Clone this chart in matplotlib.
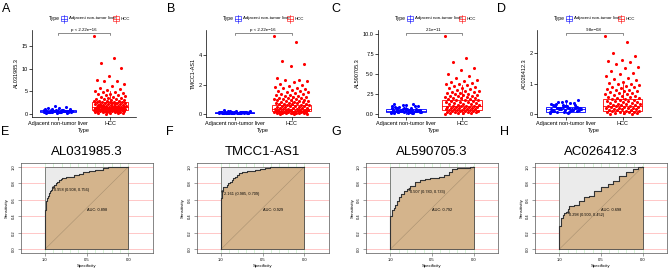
import matplotlib
matplotlib.use("Agg")
import matplotlib.pyplot as plt
from matplotlib.patches import Rectangle
from matplotlib.lines import Line2D

plt.rcParams['font.family'] = ['Liberation Sans', 'DejaVu Sans']

W, H = 669, 268

# ---------------- data: box plots (top row) ----------------
groups = ["Adjacent non-tumor liver", "HCC"]
genes = ["AL031985.3", "TMCC1-AS1", "AL590705.3", "AC026412.3"]
pvals = ["p < 2.22e\u221216", "p < 2.22e\u221216", "2.1e\u221211", "9.8e\u221208"]

adj_A = [0.35, 0.42, 0.48, 0.55, 0.61, 0.66, 0.72, 0.58, 0.51, 0.44, 0.39, 0.63, 0.70, 0.78, 0.85,
         0.92, 0.60, 0.53, 0.47, 0.68, 0.75, 0.57, 0.62, 0.49, 0.41, 0.33, 0.28, 0.95, 1.05, 1.12,
         1.25, 1.38, 1.55, 1.72, 0.88, 0.81, 0.64, 0.56, 0.45, 0.52, 0.59, 0.67, 0.74, 0.43, 0.37,
         0.31, 0.99, 1.18, 0.71, 0.54]
hcc_A = [17.2, 12.3, 11.3, 10.1, 8.3, 7.4, 7.3, 7.2, 6.6, 6.1, 5.8, 5.5, 5.3, 5.1, 4.9, 4.8, 4.6,
         4.5, 4.3, 4.2, 4.1, 3.9, 3.8, 3.7, 3.6, 3.5, 3.4, 3.3, 3.2, 3.1, 3.0, 2.95, 2.9, 2.85, 2.8,
         2.75, 2.7, 2.65, 2.6, 2.55, 2.5, 2.45, 2.4, 2.35, 2.3, 2.25, 2.2, 2.15, 2.1, 2.05, 2.0,
         1.95, 1.9, 1.85, 1.8, 1.75, 1.7, 1.68, 1.65, 1.62, 1.6, 1.57, 1.55, 1.52, 1.5, 1.47, 1.45,
         1.42, 1.4, 1.37, 1.35, 1.32, 1.3, 1.27, 1.25, 1.22, 1.2, 1.17, 1.15, 1.12, 1.1, 1.07, 1.05,
         1.02, 1.0, 0.97, 0.95, 0.92, 0.9, 0.87, 0.85, 0.82, 0.8, 0.77, 0.75, 0.72, 0.7, 0.67, 0.65,
         0.6, 0.55, 0.5, 0.45, 0.4, 0.35, 0.3, 0.25, 0.2, 0.15, 0.1]

adj_B = [0.05, 0.08, 0.1, 0.12, 0.07, 0.09, 0.11, 0.14, 0.06, 0.13, 0.1, 0.08, 0.15, 0.12, 0.09,
         0.11, 0.07, 0.16, 0.1, 0.13, 0.18, 0.22, 0.06, 0.09, 0.12, 0.08, 0.11, 0.14, 0.1, 0.07,
         0.2, 0.25, 0.13, 0.09, 0.12, 0.1, 0.08, 0.11, 0.15, 0.17, 0.04, 0.1, 0.12, 0.09, 0.14,
         0.11, 0.08, 0.13, 0.1, 0.19]
hcc_B = [5.3, 4.9, 3.65, 3.4, 3.3, 2.45, 2.35, 2.3, 2.25, 2.2, 2.05, 2.0, 1.92, 1.85, 1.8, 1.75,
         1.7, 1.65, 1.6, 1.55, 1.5, 1.47, 1.43, 1.4, 1.36, 1.32, 1.28, 1.25, 1.22, 1.18, 1.15, 1.12,
         1.1, 1.07, 1.05, 1.02, 1.0, 0.98, 0.95, 0.93, 0.9, 0.88, 0.86, 0.84, 0.82, 0.8, 0.78, 0.76,
         0.74, 0.72, 0.7, 0.68, 0.66, 0.64, 0.62, 0.6, 0.58, 0.56, 0.54, 0.52, 0.5, 0.48, 0.46,
         0.44, 0.42, 0.4, 0.38, 0.36, 0.35, 0.34, 0.32, 0.31, 0.3, 0.28, 0.27, 0.26, 0.25, 0.24,
         0.22, 0.21, 0.2, 0.19, 0.18, 0.17, 0.16, 0.15, 0.14, 0.13, 0.12, 0.11, 0.1, 0.09, 0.08,
         0.07, 0.06, 0.05, 0.04, 0.03, 0.02, 0.01]

adj_C = [0.1, 0.2, 0.3, 0.35, 0.4, 0.45, 0.5, 0.55, 0.25, 0.15, 0.38, 0.42, 0.6, 0.7, 0.8, 0.9,
         1.0, 1.1, 1.2, 1.3, 0.33, 0.28, 0.47, 0.52, 0.65, 0.75, 0.22, 0.18, 0.36, 0.44, 0.58,
         0.85, 0.95, 1.15, 0.3, 0.4, 0.27, 0.5, 0.62, 0.12, 0.08, 0.32, 0.46, 0.55, 0.72, 0.38,
         0.24, 1.05, 0.68, 0.42]
hcc_C = [9.8, 7.0, 6.5, 5.7, 5.5, 5.0, 4.8, 4.5, 4.3, 4.1, 4.0, 3.9, 3.8, 3.7, 3.6, 3.5, 3.4, 3.3,
         3.2, 3.1, 3.0, 2.9, 2.85, 2.8, 2.7, 2.65, 2.6, 2.5, 2.45, 2.4, 2.35, 2.3, 2.25, 2.2, 2.15,
         2.1, 2.05, 2.0, 1.95, 1.9, 1.85, 1.8, 1.75, 1.7, 1.65, 1.6, 1.55, 1.5, 1.45, 1.4, 1.35,
         1.3, 1.25, 1.2, 1.15, 1.1, 1.05, 1.0, 0.97, 0.94, 0.91, 0.88, 0.85, 0.82, 0.79, 0.76,
         0.73, 0.7, 0.67, 0.64, 0.61, 0.58, 0.55, 0.52, 0.49, 0.46, 0.43, 0.4, 0.37, 0.34, 0.31,
         0.28, 0.25, 0.22, 0.19, 0.16, 0.13, 0.1, 0.07, 0.04]

adj_D = [0.02, 0.05, 0.08, 0.1, 0.12, 0.14, 0.16, 0.18, 0.2, 0.22, 0.25, 0.28, 0.3, 0.33, 0.36,
         0.4, 0.45, 0.42, 0.11, 0.13, 0.15, 0.17, 0.19, 0.21, 0.24, 0.06, 0.09, 0.14, 0.16, 0.12,
         0.27, 0.31, 0.35, 0.38, 0.07, 0.1, 0.18, 0.23, 0.26, 0.29, 0.13, 0.15, 0.2, 0.04, 0.32,
         0.19, 0.22, 0.17]
hcc_D = [2.55, 2.35, 2.0, 1.9, 1.76, 1.74, 1.72, 1.65, 1.55, 1.5, 1.42, 1.35, 1.3, 1.25, 1.18,
         1.15, 1.1, 1.05, 1.02, 1.0, 0.97, 0.95, 0.92, 0.9, 0.88, 0.85, 0.83, 0.8, 0.78, 0.76,
         0.74, 0.72, 0.7, 0.68, 0.66, 0.64, 0.62, 0.6, 0.58, 0.56, 0.55, 0.53, 0.52, 0.5, 0.49,
         0.47, 0.46, 0.44, 0.43, 0.41, 0.4, 0.38, 0.37, 0.35, 0.34, 0.33, 0.32, 0.3, 0.29, 0.28,
         0.27, 0.26, 0.25, 0.24, 0.23, 0.22, 0.21, 0.2, 0.19, 0.18, 0.17, 0.16, 0.15, 0.14, 0.13,
         0.12, 0.11, 0.1, 0.09, 0.08, 0.07, 0.06, 0.05, 0.04, 0.03, 0.02, 0.01, 0.005]

# box stats: (q1, median, q3, whisker low, whisker high)
box_adj = [(0.45, 0.60, 0.78, 0.25, 1.25), (0.08, 0.10, 0.13, 0.04, 0.20),
           (0.20, 0.40, 0.60, 0.05, 1.00), (0.08, 0.15, 0.24, 0.02, 0.45)]
box_hcc = [(0.95, 1.65, 2.65, 0.10, 5.10), (0.18, 0.33, 0.62, 0.00, 1.25),
           (0.50, 1.00, 1.75, 0.02, 3.60), (0.11, 0.27, 0.48, 0.00, 0.98)]

yticks_top = [[0, 5, 10, 15], [0, 2, 4], [0, 2.5, 5, 7.5, 10], [0, 1, 2]]
ytick_lbls = [["0", "5", "10", "15"], ["0", "2", "4"],
              ["0.0", "2.5", "5.0", "7.5", "10.0"], ["0", "1", "2"]]

# ---------------- data: ROC curves (bottom row) ----------------
spec_E = [1.0, 1.0, 0.99, 0.985, 0.97, 0.965, 0.95, 0.945, 0.93, 0.92, 0.908, 0.89, 0.87, 0.85,
          0.83, 0.81, 0.79, 0.75, 0.72, 0.69, 0.65, 0.59, 0.55, 0.47, 0.40, 0.31, 0.28, 0.25, 0.23, 0.0]
sens_E = [0.0, 0.46, 0.48, 0.55, 0.58, 0.62, 0.64, 0.68, 0.70, 0.72, 0.756, 0.76, 0.78, 0.80,
          0.82, 0.84, 0.85, 0.86, 0.87, 0.875, 0.88, 0.90, 0.91, 0.93, 0.95, 0.96, 0.98, 0.99, 1.0, 1.0]
spec_F = [1.0, 1.0, 0.984, 0.972, 0.95, 0.932, 0.91, 0.892, 0.87, 0.852, 0.83, 0.812, 0.78, 0.752,
          0.72, 0.692, 0.64, 0.592, 0.53, 0.472, 0.412, 0.34, 0.272, 0.0]
sens_F = [0.0, 0.60, 0.62, 0.709, 0.75, 0.76, 0.78, 0.80, 0.82, 0.84, 0.86, 0.88, 0.90, 0.92,
          0.93, 0.94, 0.945, 0.95, 0.96, 0.97, 0.99, 0.995, 1.0, 1.0]
spec_G = [1.0, 1.0, 0.98, 0.96, 0.94, 0.92, 0.90, 0.872, 0.84, 0.80, 0.78, 0.76, 0.70, 0.64, 0.58,
          0.52, 0.42, 0.36, 0.30, 0.26, 0.20, 0.12, 0.04, 0.0]
sens_G = [0.0, 0.36, 0.40, 0.48, 0.50, 0.54, 0.58, 0.63, 0.67, 0.71, 0.733, 0.74, 0.77, 0.81, 0.84,
          0.85, 0.86, 0.88, 0.90, 0.94, 0.97, 0.98, 0.99, 1.0]
spec_H = [1.0, 1.0, 0.98, 0.96, 0.94, 0.92, 0.90, 0.88, 0.82, 0.76, 0.70, 0.64, 0.58, 0.50, 0.42,
          0.36, 0.28, 0.20, 0.12, 0.06, 0.0]
sens_H = [0.0, 0.26, 0.28, 0.38, 0.42, 0.44, 0.452, 0.49, 0.52, 0.54, 0.58, 0.63, 0.65, 0.71, 0.75,
          0.79, 0.83, 0.89, 0.93, 0.97, 1.0]
roc_spec = [spec_E, spec_F, spec_G, spec_H]
roc_sens = [sens_E, sens_F, sens_G, sens_H]
thres_pt = [(0.908, 0.756), (0.985, 0.709), (0.780, 0.733), (0.900, 0.452)]
thres_txt = ["0.958 (0.908, 0.756)", "2.161 (0.985, 0.709)", "0.507 (0.780, 0.733)",
             "0.298 (0.900, 0.452)"]
auc_txt = ["AUC: 0.898", "AUC: 0.929", "AUC: 0.792", "AUC: 0.698"]

adj_all = [adj_A, adj_B, adj_C, adj_D]
hcc_all = [hcc_A, hcc_B, hcc_C, hcc_D]

fig = plt.figure(figsize=(W / 100, H / 100), dpi=100)


def px_axes(left, top, width, height):
    return fig.add_axes([left / W, 1 - (top + height) / H, width / W, height / H])


def jitter(n, width):
    # deterministic spread for the jittered points
    return [((i * 0.6180339887) % 1.0 - 0.5) * width for i in range(n)]


def draw_box(ax, pos, st, color, width=0.7):
    q1, med, q3, lo, hi = st
    ax.add_patch(Rectangle((pos - width / 2, q1), width, q3 - q1, facecolor='none',
                           edgecolor=color, lw=0.6, zorder=2))
    ax.plot([pos - width / 2, pos + width / 2], [med, med], color=color, lw=0.6, zorder=2)
    ax.plot([pos, pos], [q3, hi], color=color, lw=0.6, zorder=2)
    ax.plot([pos, pos], [lo, q1], color=color, lw=0.6, zorder=2)


# ---------------- top row ----------------
top_left = [32, 206, 378, 537]
top_width = [104, 114, 112, 114]
top_ylim = [(-0.66, 18.5), (-0.2, 5.73), (-0.38, 10.5), (-0.1, 2.76)]
letters_top = ["A", "B", "C", "D"]
letter_x_top = [2, 167, 331, 497]

for k in range(4):
    ax = px_axes(top_left[k], 30, top_width[k], 87)
    ax.set_xlim(0.5, 2.5)
    ax.set_ylim(*top_ylim[k])
    draw_box(ax, 1, box_adj[k], '#0000FF')
    draw_box(ax, 2, box_hcc[k], '#FF0000')
    ja = jitter(len(adj_all[k]), 0.55)
    jh = jitter(len(hcc_all[k]), 0.62)
    ax.scatter([1 + j for j in ja], adj_all[k], s=5, color='#0000FF', lw=0, zorder=3)
    ax.scatter([2 + j for j in jh], hcc_all[k], s=5, color='#FF0000', lw=0, zorder=3)

    for side in ['top', 'right']:
        ax.spines[side].set_visible(False)
    for side in ['left', 'bottom']:
        ax.spines[side].set_linewidth(0.5)
    ax.set_xticks([1, 2])
    ax.set_xticklabels(groups)
    ax.set_yticks(yticks_top[k])
    ax.set_yticklabels(ytick_lbls[k])
    ax.tick_params(labelsize=4, length=2, width=0.5, pad=1)
    ax.set_xlabel("Type", fontsize=4, labelpad=1)
    ax.set_ylabel(genes[k], fontsize=4, labelpad=2)

    # p-value bracket
    tr = ax.get_xaxis_transform()
    yb = 0.966
    ax.plot([1, 1, 2, 2], [yb - 0.02, yb, yb, yb - 0.02], color='#333333', lw=0.4,
            transform=tr, clip_on=False)
    ax.text(1.5, yb + 0.012, pvals[k], fontsize=3.2, ha='center', va='bottom',
            transform=tr)

    # legend drawn by hand
    lx = top_left[k]
    fy = 1 - 18.5 / H
    fig.text((lx + 22) / W, fy, "Type", fontsize=3.6, ha='center', va='center')
    for gx, col, lab in [(lx + 29, '#0000FF', groups[0]), (lx + 81, '#FF0000', groups[1])]:
        fig.patches.append(Rectangle((gx / W, 1 - 21 / H), 6 / W, 5 / H, facecolor='none',
                                     edgecolor=col, lw=0.4, transform=fig.transFigure))
        fig.lines.append(Line2D([gx / W, (gx + 6) / W], [fy, fy], color=col, lw=0.4,
                                transform=fig.transFigure))
        fig.lines.append(Line2D([(gx + 3) / W, (gx + 3) / W], [1 - 22.5 / H, 1 - 14.5 / H],
                                color=col, lw=0.4, transform=fig.transFigure))
        fig.text((gx + 8) / W, fy, lab, fontsize=3.2, ha='left', va='center')

    fig.text(letter_x_top[k] / W, 1 - 9 / H, letters_top[k], fontsize=9, ha='left',
             va='center')

# ---------------- bottom row ----------------
roc_left = [20.7, 196.7, 366, 535]
letters_bot = ["E", "F", "G", "H"]
letter_x_bot = [1, 166, 331, 500]

for k in range(4):
    ax = px_axes(roc_left[k], 163, 132, 90)
    ax.set_xlim(1.29, -0.29)
    ax.set_ylim(-0.045, 1.045)

    for yv in [0, 0.2, 0.4, 0.6, 0.8, 1.0]:
        ax.axhline(yv, color='#FFB0B0', lw=0.5, zorder=0)
    for xv in [0, 0.1, 0.2, 0.3, 0.4, 0.5, 0.6, 0.7, 0.8, 0.9, 1.0]:
        ax.axvline(xv, color='#C6EEC6', lw=0.5, zorder=0)

    ax.fill([1, 1, 0, 0], [0, 1, 1, 0], facecolor='#EBEBEB', edgecolor='#555555', lw=0.5,
            zorder=1)

    sx, sy = roc_spec[k], roc_sens[k]
    vx, vy = [sx[0]], [sy[0]]
    for i in range(1, len(sx)):
        vx += [sx[i - 1], sx[i]]
        vy += [sy[i], sy[i]]
    ax.fill(vx + [0, 1], vy + [0, 0], facecolor='#D4B48C', edgecolor='#444444', lw=0.5,
            zorder=2)
    ax.plot([1, 0], [0, 1], color='#A89070', lw=0.4, zorder=3)
    ax.plot(vx, vy, color='#333333', lw=0.8, zorder=4)

    tx, ty = thres_pt[k]
    ax.plot([tx], [ty], 'o', ms=0.8, color='#333333', zorder=5)
    ax.text(tx - 0.02, ty - 0.035, thres_txt[k], fontsize=2.8, ha='left', va='center',
            zorder=6)
    ax.text(0.5, 0.48, auc_txt[k], fontsize=2.8, ha='left', va='center', zorder=6)

    ax.set_xticks([1.0, 0.5, 0.0])
    ax.set_xticklabels(["1.0", "0.5", "0.0"])
    ax.set_yticks([0, 0.2, 0.4, 0.6, 0.8, 1.0])
    ax.set_yticklabels(["0.0", "0.2", "0.4", "0.6", "0.8", "1.0"], rotation=90, va='center')
    ax.tick_params(labelsize=3, length=2, width=0.4, pad=1.5, color='#555555')
    for sp in ax.spines.values():
        sp.set_linewidth(0.5)
        sp.set_color('#555555')
    ax.set_xlabel("Specificity", fontsize=3.2, labelpad=1.5)
    ax.set_ylabel("Sensitivity", fontsize=3.2, labelpad=2)
    ax.set_title(genes[k], fontsize=9.5, pad=6)

    fig.text(letter_x_bot[k] / W, 1 - 132 / H, letters_bot[k], fontsize=9, ha='left',
             va='center')

fig.savefig("out.png", dpi=100)
